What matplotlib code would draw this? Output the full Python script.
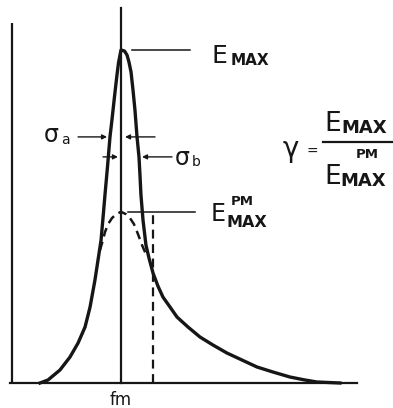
import numpy as np
import matplotlib
matplotlib.use("Agg")
import matplotlib.pyplot as plt

# JONSWAP vs Pierson-Moskowitz sketch, f normalised by fm, E by E_MAX
f_jonswap = [0.257, 0.330, 0.440, 0.532, 0.606, 0.670, 0.716, 0.761, 0.789, 0.817,
             0.839, 0.853, 0.876, 0.899, 0.917, 0.940, 0.963, 0.977, 0.991, 1.000,
             1.032, 1.055, 1.073, 1.092, 1.110, 1.128, 1.147, 1.165, 1.174, 1.183,
             1.202, 1.229, 1.257, 1.294, 1.339, 1.385, 1.450, 1.514, 1.615, 1.725,
             1.844, 1.972, 2.110, 2.248, 2.394, 2.550, 2.688, 2.798, 3.009]
e_jonswap = [0.000, 0.009, 0.039, 0.078, 0.120, 0.168, 0.228, 0.309, 0.369, 0.429,
             0.511, 0.565, 0.649, 0.739, 0.790, 0.859, 0.925, 0.961, 0.985, 1.000,
             0.997, 0.985, 0.964, 0.934, 0.880, 0.820, 0.739, 0.679, 0.625, 0.565,
             0.489, 0.414, 0.375, 0.330, 0.291, 0.258, 0.228, 0.198, 0.168, 0.138,
             0.114, 0.090, 0.069, 0.048, 0.033, 0.018, 0.009, 0.003, 0.000]

f_pm = [0.807, 0.826, 0.853, 0.881, 0.917, 0.954, 1.000, 1.046, 1.083, 1.119, 1.156, 1.193, 1.229]
e_pm = [0.399, 0.420, 0.453, 0.477, 0.495, 0.507, 0.514, 0.507, 0.495, 0.477, 0.447, 0.414, 0.387]

fm = 1.0
E_max = 1.0
E_max_pm = 0.514
f_dashed = 1.294          # dashed vertical under the PM curve

# sigma arrows: (tail f, tip f, level E)
sigma_a = [(0.606, 0.872, 0.739), (1.312, 1.037, 0.739)]
sigma_b = [(0.835, 0.972, 0.679), (1.468, 1.193, 0.679)]

ink = "#161616"
W, H = 393, 408


# pixel -> data helpers (x0=12px is f=0, 109px per fm; y0=383px is E=0, 333px per E_MAX)
def fx(x):
    return (x - 12) / 109.0


def ey(y):
    return (383 - y) / 333.0


fig = plt.figure(figsize=(W / 100, H / 100), dpi=100)
ax = fig.add_axes([0, 0, 1, 1])
ax.set_xlim(fx(0), fx(W))
ax.set_ylim(ey(H), ey(0))
ax.axis("off")

# axes lines
ax.plot([0, 0], [0, ey(23)], color=ink, lw=1.6, solid_capstyle="butt")
ax.plot([fx(10), fx(357)], [0, 0], color=ink, lw=1.6)
ax.plot([fm, fm], [0, ey(8)], color=ink, lw=1.6)

# spectra
ax.plot(f_jonswap, e_jonswap, color=ink, lw=2.4, solid_joinstyle="round")
ax.plot(f_pm, e_pm, color=ink, lw=1.8, ls=(0, (3.5, 2.2)))
ax.plot([f_dashed, f_dashed], [0, E_max_pm], color=ink, lw=1.6, ls=(0, (4, 2.5)))

# leaders
ax.plot([fx(132), fx(190)], [E_max, E_max], color=ink, lw=1.1)
ax.plot([fx(128), fx(195)], [E_max_pm, E_max_pm], color=ink, lw=1.1)

for tail, tip, lev in sigma_a + sigma_b:
    ax.annotate("", xy=(tip, lev), xytext=(tail, lev),
                arrowprops=dict(arrowstyle="-|>", color=ink, lw=1.0,
                                mutation_scale=7, shrinkA=0, shrinkB=0))

fam = ["DejaVu Sans"]
# labels
ax.text(fx(212), ey(63), "E", fontsize=18, color=ink, family=fam)
ax.text(fx(231), ey(65), "MAX", fontsize=11, weight="bold", color=ink, family=fam)

ax.text(fx(211), ey(221), "E", fontsize=17, color=ink, family=fam)
ax.text(fx(231), ey(205), "PM", fontsize=9.5, weight="bold", color=ink, family=fam)
ax.text(fx(227), ey(227), "MAX", fontsize=11.5, weight="bold", color=ink, family=fam)

ax.text(fx(44), ey(142), "σ", fontsize=17, color=ink, family=fam)
ax.text(fx(61), ey(144), "a", fontsize=10, color=ink, family=fam)
ax.text(fx(175), ey(165), "σ", fontsize=17, color=ink, family=fam)
ax.text(fx(192), ey(166), "b", fontsize=10, color=ink, family=fam)

# gamma = E_MAX / E_MAX^PM
ax.text(fx(283), ey(157), "γ", fontsize=20, color=ink, family=fam)
ax.text(fx(307), ey(156), "=", fontsize=10, color=ink, family=fam)
ax.text(fx(324), ey(131), "E", fontsize=19, color=ink, family=fam)
ax.text(fx(341), ey(133), "MAX", fontsize=13, weight="bold", color=ink, family=fam)
ax.plot([fx(323), fx(393)], [ey(142), ey(142)], color=ink, lw=1.6)
ax.text(fx(324), ey(184), "E", fontsize=19, color=ink, family=fam)
ax.text(fx(356), ey(158), "PM", fontsize=9.5, weight="bold", color=ink, family=fam)
ax.text(fx(340), ey(186), "MAX", fontsize=13, weight="bold", color=ink, family=fam)

ax.text(fm, ey(405), "fm", fontsize=12, color=ink, family=fam, ha="center")

fig.savefig("out.png", dpi=100)
